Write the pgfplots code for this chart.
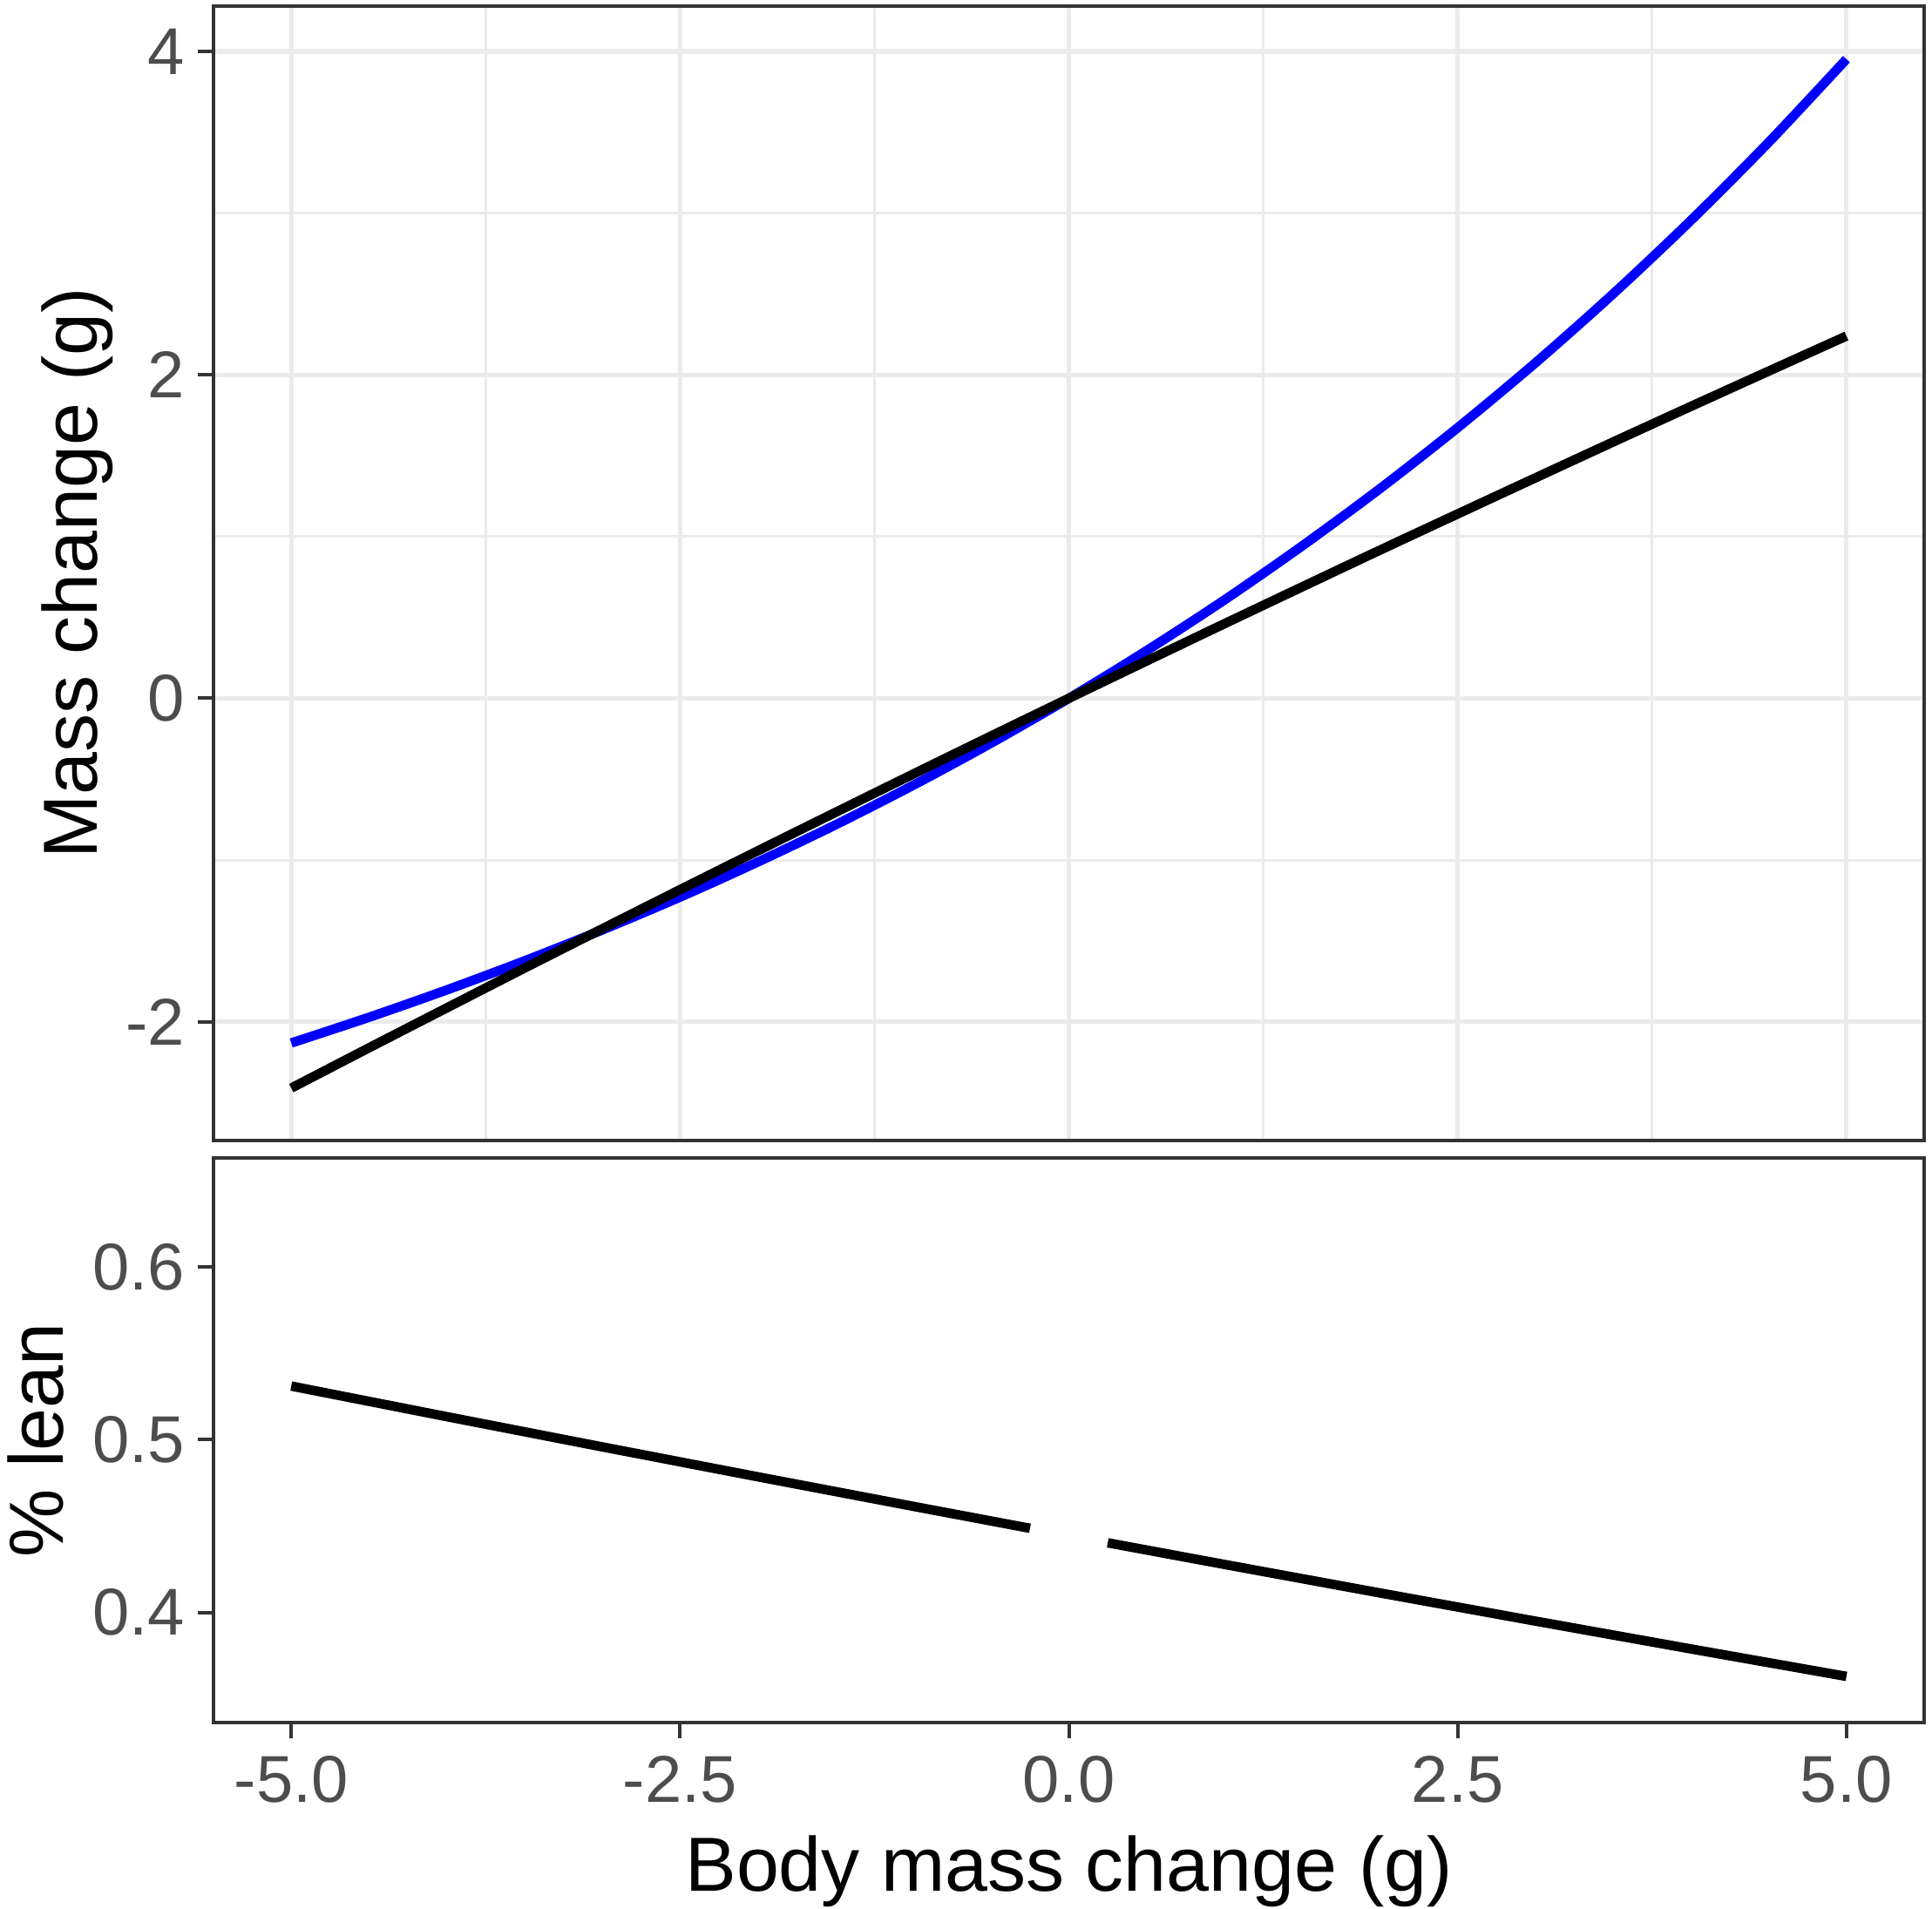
\documentclass[border=0pt]{standalone}
\usepackage{pgfplots}
\pgfplotsset{compat=1.18}
\usepackage{fontspec}
\setmainfont{Liberation Sans}
\definecolor{gridc}{HTML}{EBEBEB}
\definecolor{axc}{HTML}{333333}
\definecolor{tickc}{HTML}{4D4D4D}

\pgfplotstableread{
x y
-5.0 -2.131
-4.5 -1.972
-4.0 -1.803
-3.5 -1.623
-3.0 -1.432
-2.5 -1.229
-2.0 -1.012
-1.5 -0.782
-1.0 -0.537
-0.5 -0.277
0.0 0.000
0.5 0.295
1.0 0.608
1.5 0.942
2.0 1.296
2.5 1.673
3.0 2.074
3.5 2.501
4.0 2.955
4.5 3.438
5.0 3.952
}\bluedata

\pgfplotstableread{
x y
-5.0 -2.410
-4.5 -2.161
-4.0 -1.914
-3.5 -1.668
-3.0 -1.425
-2.5 -1.183
-2.0 -0.943
-1.5 -0.705
-1.0 -0.468
-0.5 -0.233
0.0 0.000
0.5 0.231
1.0 0.461
1.5 0.689
2.0 0.916
2.5 1.140
3.0 1.363
3.5 1.585
4.0 1.805
4.5 2.023
5.0 2.240
}\blackdata

\pgfplotstableread{
x y
-5.0 0.5310
-4.0 0.5133
-3.0 0.4958
-2.0 0.4785
-1.0 0.4614
-0.25 0.4487
0.0 nan
0.25 0.4403
1.0 0.4278
2.0 0.4113
3.0 0.3950
4.0 0.3789
5.0 0.3630
}\leandata

\begin{document}
\begin{tikzpicture}
\useasboundingbox (0,0) rectangle (554.25bp,547.75bp);
\pgfplotsset{ggp/.style={
  scale only axis, width=490.75bp, xmin=-5.5, xmax=5.5,
  axis line style={draw=axc, line width=1bp},
  every tick/.style={draw=axc, line width=1bp},
  tick align=outside, major tick length=4.5bp, minor tick length=0pt,
  xtick pos=left, ytick pos=left,
  xtick={-5,-2.5,0,2.5,5},
  tick label style={font=\fontsize{19bp}{22bp}\selectfont, text=tickc, inner sep=0pt},
  yticklabel style={anchor=east, xshift=-3.5bp},
  xticklabel style={anchor=north, yshift=-5bp},
  every axis y label/.style={at={(rel axis cs:0,0.5)}, rotate=90, anchor=base,
     font=\fontsize{22bp}{26bp}\selectfont, text=black},
  every axis x label/.style={at={(rel axis cs:0.5,0)}, anchor=base, yshift=-48.25bp,
     font=\fontsize{22bp}{26bp}\selectfont, text=black},
}}
\begin{axis}[ggp,
  at={(61.25bp,220.5bp)}, anchor=south west, height=325.5bp,
  ymin=-2.734, ymax=4.28,
  ytick={-2,0,2,4}, yticklabels={-2,0,2,4},
  xticklabels={},
  minor ytick={-1,1,3}, minor xtick={-3.75,-1.25,1.25,3.75},
  grid=both,
  major grid style={draw=gridc, line width=1.3bp},
  minor grid style={draw=gridc, line width=0.7bp},
  xtick style={draw=none},
  ylabel={Mass change (g)},
  ylabel style={yshift=33.25bp},
]
\addplot[blue, line width=2.7bp, smooth] table[x=x,y=y] {\bluedata};
\addplot[black, line width=2.7bp, smooth] table[x=x,y=y] {\blackdata};
\end{axis}
\begin{axis}[ggp,
  at={(61.25bp,53.5bp)}, anchor=south west, height=162bp,
  ymin=0.3363, ymax=0.663,
  ytick={0.4,0.5,0.6}, yticklabels={0.4,0.5,0.6},
  xticklabels={-5.0,-2.5,0.0,2.5,5.0},
  unbounded coords=jump,
  ylabel={\% lean},
  ylabel style={yshift=43bp},
  xlabel={Body mass change (g)},
]
\addplot[black, line width=2.7bp] table[x=x,y=y] {\leandata};
\end{axis}
\end{tikzpicture}
\end{document}
